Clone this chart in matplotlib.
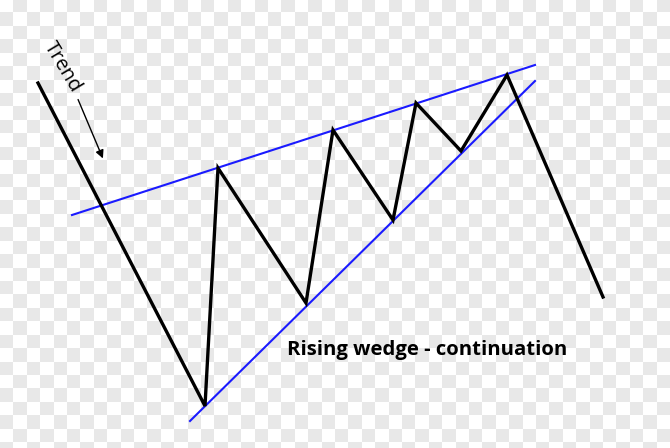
import numpy as np
import matplotlib.pyplot as plt
from matplotlib.colors import ListedColormap

# price path (pixel coords, y down)
path_x = [38, 205, 218, 306, 333, 393, 416, 461, 507, 603]
path_y = [83, 406, 168, 303, 130, 220, 103, 151, 75, 297]

# wedge lines
upper_x = [72, 535]
upper_y = [215, 65]
lower_x = [190, 535]
lower_y = [421, 81]

title = 'Rising wedge - continuation'
trend_label = 'Trend'

W, H = 670, 448
fig = plt.figure(figsize=(W / 100, H / 100), dpi=100)
ax = fig.add_axes([0, 0, 1, 1])

# transparency checkerboard background
sq = 13.4
nx, ny = int(np.ceil(W / sq)), int(np.ceil(H / sq))
board = (np.add.outer(np.arange(ny), np.arange(nx)) % 2).astype(float)
ax.imshow(board, cmap=ListedColormap(['#ffffff', '#e8e8e8']), aspect='auto',
          extent=(0, nx * sq, ny * sq, 0), interpolation='nearest', zorder=0)
ax.set_xlim(0, W)
ax.set_ylim(H, 0)
ax.axis('off')

ax.plot(upper_x, upper_y, color='#1a1aff', lw=1.5, zorder=2)
ax.plot(lower_x, lower_y, color='#1a1aff', lw=1.5, zorder=2)
ax.plot(path_x, path_y, color='black', lw=2.4, solid_joinstyle='miter', zorder=3)

ax.text(62, 67, trend_label, rotation=-59, fontsize=14.5, family='Open Sans',
        ha='center', va='center', rotation_mode='anchor', zorder=4)
ax.annotate('', xy=(104, 161), xytext=(77, 97),
            arrowprops=dict(arrowstyle='-|>', color='black', lw=1, mutation_scale=12))

ax.text(287, 350, title, fontsize=14.6, fontweight='bold', family='Open Sans',
        ha='left', va='center', zorder=4)

fig.savefig('out.png', dpi=100)
